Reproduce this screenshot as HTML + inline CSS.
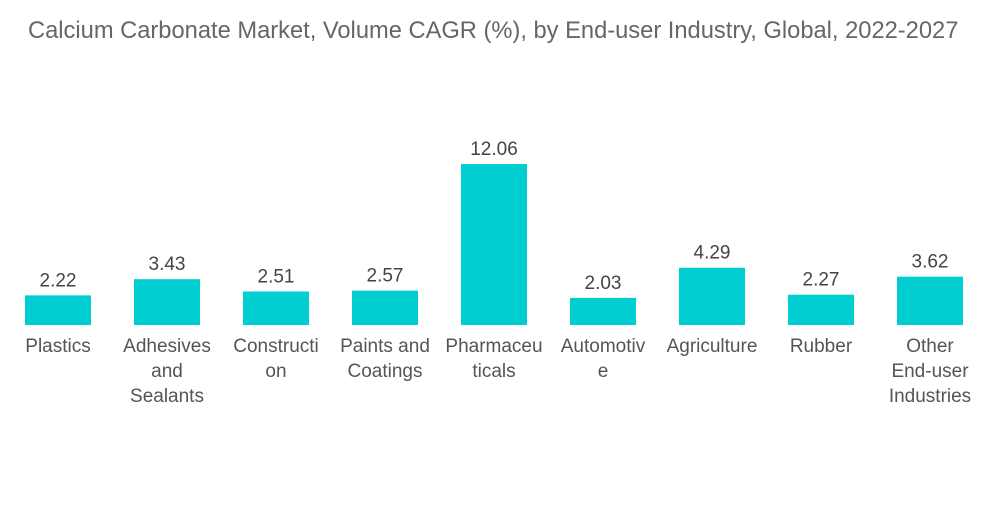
<!DOCTYPE html>
<html><head><meta charset="utf-8"><style>
body{margin:0;background:#fff;width:1000px;height:504px;overflow:hidden;font-family:"Liberation Sans",sans-serif}
</style></head><body>
<svg width="1000" height="504" id="c">
<text x="28" y="38" font-size="23.7" fill="#666">Calcium Carbonate Market, Volume CAGR (%), by End-user Industry, Global, 2022-2027</text>
</svg>
<script>
const categories=[["Plastics"],["Adhesives","and","Sealants"],["Constructi","on"],["Paints and","Coatings"],["Pharmaceu","ticals"],["Automotiv","e"],["Agriculture"],["Rubber"],["Other","End-user","Industries"]];
const values=[2.22,3.43,2.51,2.57,12.06,2.03,4.29,2.27,3.62];
const labels=["2.22","3.43","2.51","2.57","12.06","2.03","4.29","2.27","3.62"];
const svg=document.getElementById('c');
const NS='http://www.w3.org/2000/svg';
const base=325, scale=161/12.06, x0=58, step=109, bw=66;
const xs=i=>x0+i*step, ys=v=>base-v*scale;
values.forEach((v,i)=>{
  const r=document.createElementNS(NS,'rect');
  r.setAttribute('x',xs(i)-bw/2);r.setAttribute('y',ys(v));
  r.setAttribute('width',bw);r.setAttribute('height',base-ys(v));
  r.setAttribute('fill','#00ced1');
  
  
  svg.appendChild(r);
  const t=document.createElementNS(NS,'text');
  t.setAttribute('x',xs(i));t.setAttribute('y',ys(v)-9);
  t.setAttribute('text-anchor','middle');t.setAttribute('font-size','19');t.setAttribute('fill','#444');
  t.textContent=labels[i];
  
  
  svg.appendChild(t);
  categories[i].forEach((line,j)=>{
    const c=document.createElementNS(NS,'text');
    c.setAttribute('x',xs(i));c.setAttribute('y',352+j*25);
    c.setAttribute('text-anchor','middle');c.setAttribute('font-size','19');c.setAttribute('fill','#555');
    c.textContent=line;
    
    
    svg.appendChild(c);
  });
});
</script>
</body></html>
